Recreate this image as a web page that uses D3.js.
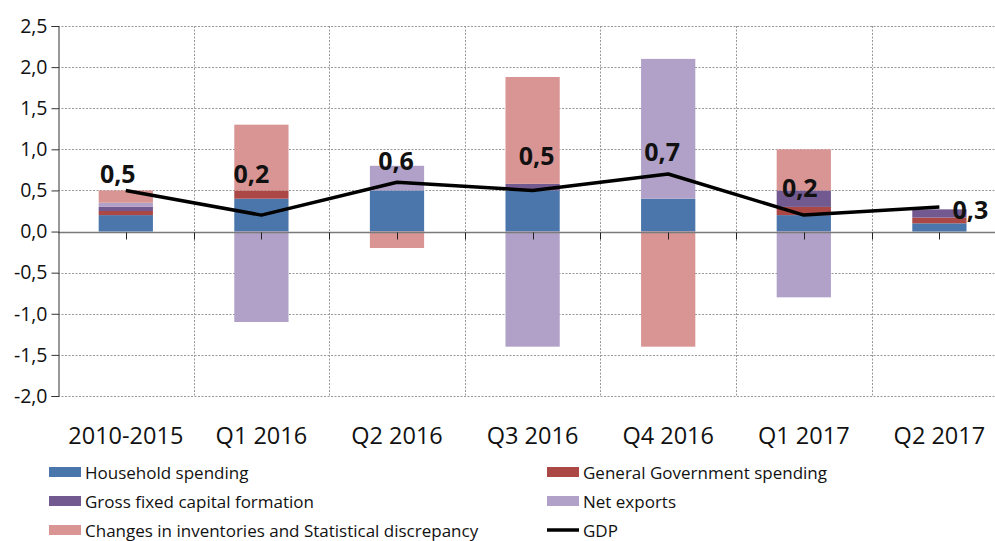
<!DOCTYPE html>
<html>
<head>
<meta charset="utf-8">
<script src="https://cdn.jsdelivr.net/npm/d3@7"></script>
<style>
  body { margin: 0; background: #fff; }
  text { font-family: "Open Sans", sans-serif; fill: #111; }
</style>
</head>
<body>
<div id="chart"></div>
<script>
var svgW = 995;
var svgH = 541;

// data
var categories = ["2010-2015", "Q1 2016", "Q2 2016", "Q3 2016", "Q4 2016", "Q1 2017", "Q2 2017"];
var household = [0.2, 0.4, 0.5, 0.5, 0.4, 0.2, 0.1];
var government = [0.05, 0.1, 0, 0, 0, 0.1, 0.07];
var gfcf = [0.05, 0, 0, 0.08, 0, 0.2, 0.1];
var netExports = [0.05, -1.1, 0.3, -1.4, 1.7, -0.8, 0];
var inventories = [0.15, 0.8, -0.2, 1.3, -1.4, 0.5, 0];
var gdp = [0.5, 0.2, 0.6, 0.5, 0.7, 0.2, 0.3];
var gdpLabels = ["0,5", "0,2", "0,6", "0,5", "0,7", "0,2", "0,3"];
var yTicks = [-2, -1.5, -1, -0.5, 0, 0.5, 1, 1.5, 2, 2.5];

var seriesNames = ["Household spending", "General Government spending", "Gross fixed capital formation",
  "Net exports", "Changes in inventories and Statistical discrepancy"];
var seriesKeys = ["household", "government", "gfcf", "netExports", "inventories"];
var seriesValues = [household, government, gfcf, netExports, inventories];
var colors = ["#4a76ab", "#ab4744", "#72598f", "#b1a1c8", "#d99594"];

// manual label offsets (like the excel chart)
var labelOffsets = [[-8, -17], [-10, -42], [-1, -22], [4, -35], [-6, -23], [-4, -28], [31, 2]];

var margin = { left: 58, top: 26 };
var bandW = 135.6;

var table = categories.map(function(c, i) {
  var row = { cat: c };
  seriesKeys.forEach(function(k, j) { row[k] = seriesValues[j][i]; });
  return row;
});

var svg = d3.select("#chart").append("svg")
  .attr("width", svgW)
  .attr("height", svgH);

var x = d3.scaleBand()
  .domain(categories)
  .range([margin.left, margin.left + bandW * categories.length]);

var y = d3.scaleLinear()
  .domain([-2, 2.5])
  .range([396, margin.top]);

var plotRight = svgW;

// grid
var grid = svg.append("g").attr("stroke", "#999").attr("stroke-width", 1).attr("stroke-dasharray", "2,1.5");
grid.selectAll(".hg")
  .data(yTicks.filter(d => d !== 0))
  .enter().append("line")
  .attr("x1", margin.left).attr("x2", plotRight)
  .attr("y1", d => Math.round(y(d)) + 0.5).attr("y2", d => Math.round(y(d)) + 0.5);
grid.selectAll(".vg")
  .data(categories.slice(1))
  .enter().append("line")
  .attr("x1", d => Math.round(x(d)) + 0.5).attr("x2", d => Math.round(x(d)) + 0.5)
  .attr("y1", y(2.5)).attr("y2", y(-2));

// stacked bars
var stack = d3.stack()
  .keys(seriesKeys)
  .offset(d3.stackOffsetDiverging);
var stacked = stack(table);

var barW = x.bandwidth() * 0.4;
var layers = svg.selectAll(".layer")
  .data(stacked)
  .enter().append("g")
  .attr("fill", (d, i) => colors[i]);

layers.selectAll("rect")
  .data(d => d)
  .enter().append("rect")
  .attr("x", d => x(d.data.cat) + x.bandwidth() / 2 - barW / 2)
  .attr("width", barW)
  .attr("y", d => y(Math.max(d[0], d[1])))
  .attr("height", d => Math.abs(y(d[0]) - y(d[1])));

// x axis line at zero
var zeroY = Math.round(y(0)) + 0.5;
svg.append("line")
  .attr("x1", margin.left).attr("x2", plotRight)
  .attr("y1", zeroY).attr("y2", zeroY)
  .attr("stroke", "#7a7a7a").attr("stroke-width", 1.5);

var xTickPos = [];
categories.forEach(function(c, i) {
  xTickPos.push(x(c) + x.bandwidth() / 2);
  if (i > 0) xTickPos.push(x(c));
});
svg.selectAll(".xt")
  .data(xTickPos)
  .enter().append("line")
  .attr("x1", d => Math.round(d) + 0.5).attr("x2", d => Math.round(d) + 0.5)
  .attr("y1", zeroY).attr("y2", zeroY + 7)
  .attr("stroke", "#222").attr("stroke-width", 1);

// y axis with minor ticks
var yAxisG = svg.append("g").attr("transform", `translate(${margin.left + 0.5},0)`);
yAxisG.call(d3.axisLeft(y).tickValues(d3.range(-20, 26, 1).map(d => d / 10)).tickSize(4).tickFormat(""));
yAxisG.call(d3.axisLeft(y).tickValues(yTicks).tickSize(7)
  .tickFormat(d => d3.format(".1f")(d).replace(".", ",").replace("−", "-")));
yAxisG.selectAll("path").attr("stroke", "#333");
yAxisG.selectAll("line").attr("stroke", "#333");
yAxisG.selectAll("text")
  .attr("x", -11)
  .style("font-size", "19.5px")
  .style("font-family", "'Open Sans', sans-serif")
  .attr("fill", "#111");

// category labels
svg.selectAll(".xl")
  .data(categories)
  .enter().append("text")
  .attr("x", d => x(d) + x.bandwidth() / 2)
  .attr("y", 444)
  .attr("text-anchor", "middle")
  .style("font-size", "23.5px")
  .text(d => d);

// GDP line
var line = d3.line()
  .x((d, i) => x(categories[i]) + x.bandwidth() / 2)
  .y(d => y(d));
svg.append("path")
  .datum(gdp)
  .attr("d", line)
  .attr("fill", "none")
  .attr("stroke", "#000")
  .attr("stroke-width", 3.5)
  .attr("stroke-linejoin", "round");

svg.selectAll(".gl")
  .data(gdp)
  .enter().append("text")
  .attr("x", (d, i) => x(categories[i]) + x.bandwidth() / 2 + labelOffsets[i][0])
  .attr("y", (d, i) => y(d) + labelOffsets[i][1])
  .attr("text-anchor", "middle")
  .attr("dominant-baseline", "central")
  .style("font-size", "25px")
  .style("font-weight", "bold")
  .text((d, i) => gdpLabels[i]);

// legend
var legendItems = seriesNames.map((n, i) => ({ name: n, color: colors[i], type: "rect" }));
legendItems.push({ name: "GDP", color: "#000", type: "line" });
var legend = svg.selectAll(".lg")
  .data(legendItems)
  .enter().append("g")
  .attr("transform", (d, i) => `translate(${i % 2 === 0 ? 49 : 547},${472 + Math.floor(i / 2) * 29})`);
legend.filter(d => d.type === "rect").append("rect")
  .attr("x", 0).attr("y", -5).attr("width", 32).attr("height", 10)
  .attr("fill", d => d.color);
legend.filter(d => d.type === "line").append("line")
  .attr("x1", 0).attr("x2", 32).attr("y1", 0).attr("y2", 0)
  .attr("stroke", "#000").attr("stroke-width", 3.5);
legend.append("text")
  .attr("x", 36)
  .attr("y", 0)
  .attr("dominant-baseline", "central")
  .style("font-size", "17px")
  .text(d => d.name);
</script>
</body>
</html>
